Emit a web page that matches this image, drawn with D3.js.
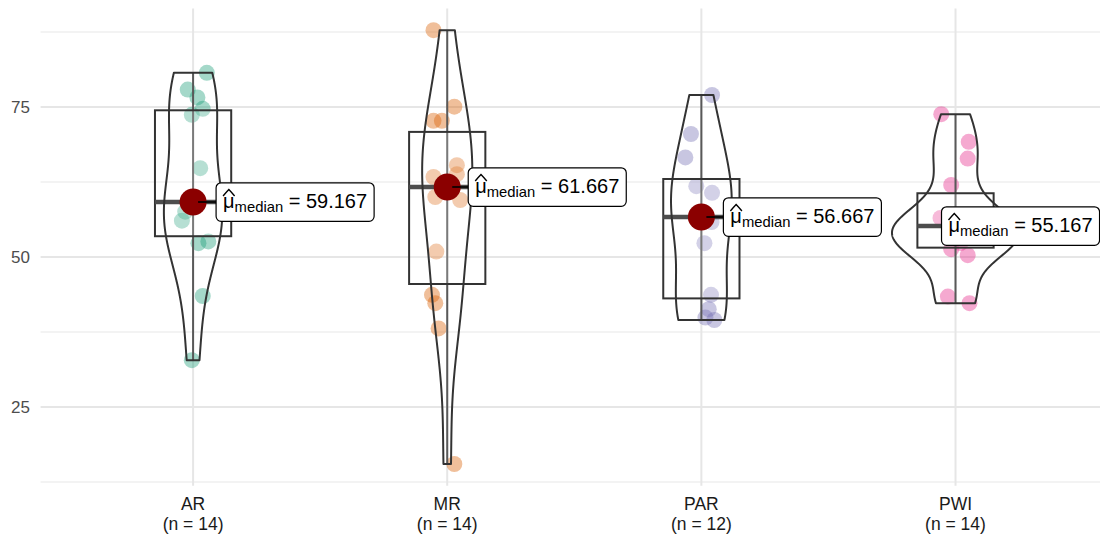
<!DOCTYPE html>
<html>
<head>
<meta charset="utf-8">
<script src="https://cdn.jsdelivr.net/npm/d3@7"></script>
<style>
  body { margin: 0; background: #ffffff; }
  svg { display: block; font-family: "Liberation Sans", Arial, Helvetica, sans-serif; }
</style>
</head>
<body>
<svg id="chart" width="1100" height="537"></svg>
<script>
// ---- data -------------------------------------------------------------
const categories = ["AR", "MR", "PAR", "PWI"];

const arValues  = [80.7, 77.9, 76.6, 74.7, 73.7, 64.8, 59.834, 58.5, 57.55, 56.05, 52.6, 52.3, 43.5, 32.8];
const mrValues  = [87.8, 75.05, 72.7, 72.7, 65.3, 63.8, 63.334, 60.0, 59.5, 50.9, 43.7, 42.3, 38.1, 15.5];
const parValues = [77.0, 70.5, 66.6, 61.8, 60.7, 57.5, 55.834, 52.3, 43.7, 41.3, 39.9, 39.5];
const pwiValues = [73.8, 69.2, 66.4, 62.0, 56.5, 56.0, 55.667, 54.667, 53.5, 52.33, 51.3, 50.3, 43.4, 42.3];

// horizontal jitter of each point, as a fraction of the category step
const arJitter  = [0.054, -0.021, 0.017, 0.038, -0.005, 0.028, 0.01, 0.0, -0.031, -0.044, 0.060, 0.021, 0.038, -0.005];
const mrJitter  = [-0.054, 0.028, -0.054, -0.021, 0.038, 0.038, -0.054, -0.047, 0.051, -0.043, -0.060, -0.047, -0.034, 0.028];
const parJitter = [0.042, -0.041, -0.063, -0.020, 0.042, 0.0, 0.040, 0.012, 0.038, 0.029, 0.016, 0.051];
const pwiJitter = [-0.056, 0.052, 0.048, -0.017, -0.059, 0.0, 0.030, 0.045, -0.010, 0.020, -0.017, 0.048, -0.030, 0.055];

const groupValues = [arValues, mrValues, parValues, pwiValues];
const groupJitter = [arJitter, mrJitter, parJitter, pwiJitter];

const yTicks = [25, 50, 75];
const yMinorTicks = [12.5, 37.5, 62.5, 87.5];
const palette = ["#1B9E77", "#D95F02", "#7570B3", "#E7298A"];

// ---- layout -----------------------------------------------------------
const svg = d3.select("#chart");
const panel = { left: 40.6, right: 1108, top: 8.5, bottom: 485.7 };

const x = d3.scalePoint().domain(categories).range([panel.left, panel.right]).padding(0.6);
const step = x.step();

const allValues = groupValues.flat();
const [vMin, vMax] = d3.extent(allValues);
const pad = (vMax - vMin) * 0.05;
const y = d3.scaleLinear().domain([vMin - pad, vMax + pad]).range([panel.bottom, panel.top]);

// ---- summary statistics ---------------------------------------------
function summarize(values) {
  const s = values.slice().sort(d3.ascending);
  const q1 = d3.quantile(s, 0.25), med = d3.quantile(s, 0.5), q3 = d3.quantile(s, 0.75);
  const iqr = q3 - q1;
  const lo = d3.min(s.filter(v => v >= q1 - 1.5 * iqr));
  const hi = d3.max(s.filter(v => v <= q3 + 1.5 * iqr));
  const sd = d3.deviation(s);
  const bw = 0.9 * Math.min(sd, iqr / 1.34) * Math.pow(s.length, -0.2);
  const grid = d3.range(512).map(i => s[0] + (s[s.length - 1] - s[0]) * i / 511);
  const dens = grid.map(t => {
    const sum = d3.sum(s, v => Math.exp(-0.5 * ((t - v) / bw) ** 2));
    return { t, d: sum / (s.length * bw * Math.sqrt(2 * Math.PI)) };
  });
  return { s, q1, med, q3, lo, hi, dens, n: s.length };
}
const stats = groupValues.map(summarize);
const densMax = d3.max(stats, st => d3.max(st.dens, p => p.d));

// ---- grid -------------------------------------------------------------
const grid = svg.append("g");
grid.selectAll("line.minor").data(yMinorTicks).join("line")
  .attr("x1", panel.left).attr("x2", 1100)
  .attr("y1", d => y(d)).attr("y2", d => y(d))
  .attr("stroke", "#EFEFEF").attr("stroke-width", 1.4);
grid.selectAll("line.major").data(yTicks).join("line")
  .attr("x1", panel.left).attr("x2", 1100)
  .attr("y1", d => y(d)).attr("y2", d => y(d))
  .attr("stroke", "#E6E6E6").attr("stroke-width", 2);
grid.selectAll("line.vert").data(categories).join("line")
  .attr("x1", d => x(d)).attr("x2", d => x(d))
  .attr("y1", panel.top).attr("y2", panel.bottom)
  .attr("stroke", "#E6E6E6").attr("stroke-width", 2);

// ---- y-axis tick labels ------------------------------------------------
svg.append("g").selectAll("text").data(yTicks).join("text")
  .attr("x", 30).attr("y", d => y(d)).attr("dy", "0.35em")
  .attr("text-anchor", "end").attr("font-size", 17).attr("fill", "#4D4D4D")
  .text(d => d);

// ---- x-axis labels -------------------------------------------------
const xl = svg.append("g").selectAll("text").data(categories).join("text")
  .attr("text-anchor", "middle").attr("font-size", 17.5).attr("fill", "#1A1A1A");
xl.append("tspan").attr("x", d => x(d)).attr("y", 510).text(d => d);
xl.append("tspan").attr("x", d => x(d)).attr("y", 530).text((d, i) => `(n = ${stats[i].n})`);

// ---- jittered points -------------------------------------------------
categories.forEach((c, i) => {
  svg.append("g").selectAll("circle").data(groupValues[i]).join("circle")
    .attr("cx", (v, j) => x(c) + groupJitter[i][j] * step)
    .attr("cy", v => y(v))
    .attr("r", 8)
    .attr("fill", palette[i]).attr("fill-opacity", 0.4);
});

// ---- box plots ------------------------------------------------------
const boxHalf = 0.15 * step;
categories.forEach((c, i) => {
  const st = stats[i], cx = x(c);
  const g = svg.append("g");
  g.append("line").attr("x1", cx).attr("x2", cx).attr("y1", y(st.hi)).attr("y2", y(st.lo))
    .attr("stroke", "#595959").attr("stroke-width", 2);
  g.append("rect").attr("x", cx - boxHalf).attr("width", 2 * boxHalf)
    .attr("y", y(st.q3)).attr("height", y(st.q1) - y(st.q3))
    .attr("fill", "#ffffff").attr("fill-opacity", 0.2)
    .attr("stroke", "#333333").attr("stroke-width", 2);
  g.append("line").attr("x1", cx - boxHalf).attr("x2", cx + boxHalf)
    .attr("y1", y(st.med)).attr("y2", y(st.med))
    .attr("stroke", "#4D4D4D").attr("stroke-width", 4.5);
});

// ---- violins --------------------------------------------------------
const violinHalf = 0.25 * step;
categories.forEach((c, i) => {
  const cx = x(c);
  const area = d3.area()
    .x0(p => cx - p.d / densMax * violinHalf)
    .x1(p => cx + p.d / densMax * violinHalf)
    .y(p => y(p.t));
  svg.append("path").attr("d", area(stats[i].dens))
    .attr("fill", "none").attr("stroke", "#333333").attr("stroke-width", 2)
    .attr("stroke-linejoin", "round");
});

// ---- median points and labels -------------------------------------
const labelShift = [23, 21, 22, -14];
categories.forEach((c, i) => {
  const cx = x(c), cy = y(stats[i].med);
  svg.append("circle").attr("cx", cx).attr("cy", cy).attr("r", 13.5).attr("fill", "#8B0000");
});
categories.forEach((c, i) => {
  const cx = x(c), cy = y(stats[i].med);
  const lx = cx + labelShift[i];
  if (labelShift[i] > 0) {
    svg.append("line").attr("x1", cx + 5).attr("x2", lx).attr("y1", cy).attr("y2", cy)
      .attr("stroke", "#000").attr("stroke-width", 1.6);
  }
  const g = svg.append("g").attr("transform", `translate(${lx},${cy})`);
  const rect = g.append("rect").attr("rx", 5).attr("ry", 5)
    .attr("fill", "#ffffff").attr("stroke", "#000").attr("stroke-width", 1.2);
  const base = 6.5;
  const padX = 7;
  const mu = g.append("text").attr("x", padX).attr("y", base).attr("font-size", 20).text("μ");
  const muW = mu.node().getComputedTextLength();
  g.append("path")
    .attr("d", `M${padX},${base - 12.5} Q${padX + muW * 0.25},${base - 16} ${padX + muW / 2},${base - 19} Q${padX + muW * 0.75},${base - 16} ${padX + muW},${base - 12.5}`)
    .attr("fill", "none").attr("stroke", "#000").attr("stroke-width", 1.4);
  const sub = g.append("text").attr("x", padX + muW).attr("y", base + 4).attr("font-size", 14.8).text("median");
  const subW = sub.node().getComputedTextLength();
  const rest = g.append("text").attr("x", padX + muW + subW).attr("y", base).attr("font-size", 20)
    .attr("xml:space", "preserve").text(" = " + d3.format(".3f")(stats[i].med));
  const restW = rest.node().getComputedTextLength();
  const w = padX + muW + subW + restW + padX;
  rect.attr("x", 0).attr("y", -19.2).attr("width", w).attr("height", 38.5);
});
</script>
</body>
</html>
